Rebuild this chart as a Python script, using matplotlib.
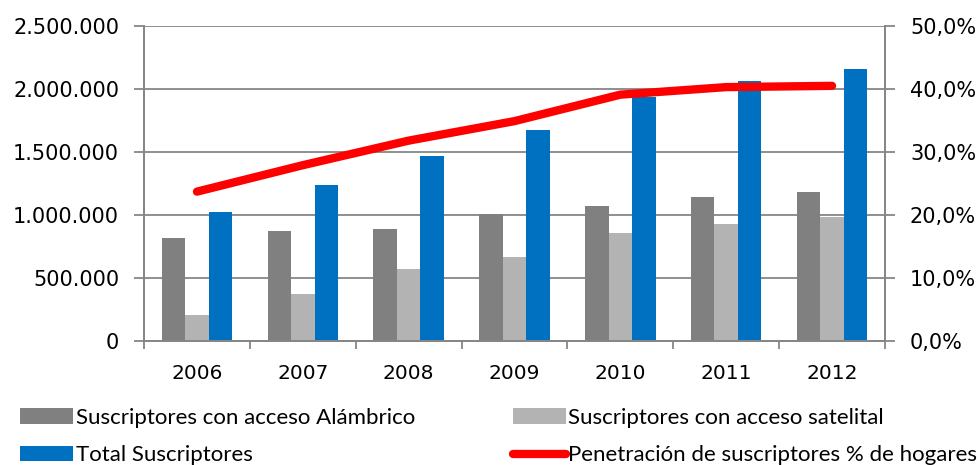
import numpy as np
import matplotlib.pyplot as plt
from matplotlib.ticker import FuncFormatter

plt.rcParams['font.family'] = ['DejaVu Sans']

anios = ['2006', '2007', '2008', '2009', '2010', '2011', '2012']
alambrico = [820000, 871000, 889000, 1008000, 1074000, 1140000, 1180000]
satelital = [204000, 371000, 569000, 667000, 855000, 931000, 984000]
total = [1024000, 1241000, 1466000, 1675000, 1935000, 2066000, 2156000]
penetracion = [23.7, 27.9, 31.8, 34.9, 39.1, 40.3, 40.5]

gris = '#868686'
fig = plt.figure(figsize=(9.8, 4.65), dpi=100)
ax = fig.add_axes([0.147, 0.267, 0.756, 0.677])
ax2 = ax.twinx()

x = np.arange(len(anios))
w = 1 / 4.5
b1 = ax.bar(x - w, alambrico, w, color='#808080', label='Suscriptores con acceso Alámbrico', zorder=2)
b2 = ax.bar(x, satelital, w, color='#b3b3b3', label='Suscriptores con acceso satelital', zorder=2)
b3 = ax.bar(x + w, total, w, color='#0070C0', label='Total Suscriptores', zorder=2)
l1, = ax2.plot(x, penetracion, color='#FF0000', lw=6, solid_capstyle='round',
               label='Penetración de suscriptores % de hogares')

ax.set_xlim(-0.5, len(anios) - 0.5)
ax.set_ylim(0, 2500000)
ax2.set_ylim(0, 50)
ax.set_yticks(np.arange(0, 2500001, 500000))
ax2.set_yticks(np.arange(0, 51, 10))
ax.yaxis.set_major_formatter(FuncFormatter(lambda v, p: f'{int(v):,}'.replace(',', '.')))
ax2.yaxis.set_major_formatter(FuncFormatter(lambda v, p: f'{v:.1f}%'.replace('.', ',')))
ax.set_xticks(x)
ax.set_xticklabels(anios)
ax.set_xticks(np.arange(-0.5, len(anios)), minor=True)
ax.tick_params(axis='x', which='major', length=0, pad=17, labelsize=14.5)
ax.tick_params(axis='x', which='minor', length=6, color=gris, width=1.3)
ax.tick_params(axis='y', length=7, color=gris, width=1.3, labelsize=15, pad=11)
ax2.tick_params(axis='y', length=7, color=gris, width=1.3, labelsize=15, pad=11)

ax.grid(axis='y', color=gris, lw=1.3, zorder=0)
ax.set_axisbelow(True)
for a in (ax, ax2):
    a.spines['top'].set_visible(False)
    for s in ('left', 'right', 'bottom'):
        a.spines[s].set_color(gris)
        a.spines[s].set_linewidth(1.3)

fig.legend(handles=[b1, b3, b2, l1], ncol=2, loc='lower left', bbox_to_anchor=(0.0, -0.044),
           frameon=False, prop={'family': 'Lato', 'size': 16}, handlelength=2.4, handleheight=0.7,
           handletextpad=0.1, columnspacing=4.4, labelspacing=0.8)

fig.savefig('out.png', dpi=100)
